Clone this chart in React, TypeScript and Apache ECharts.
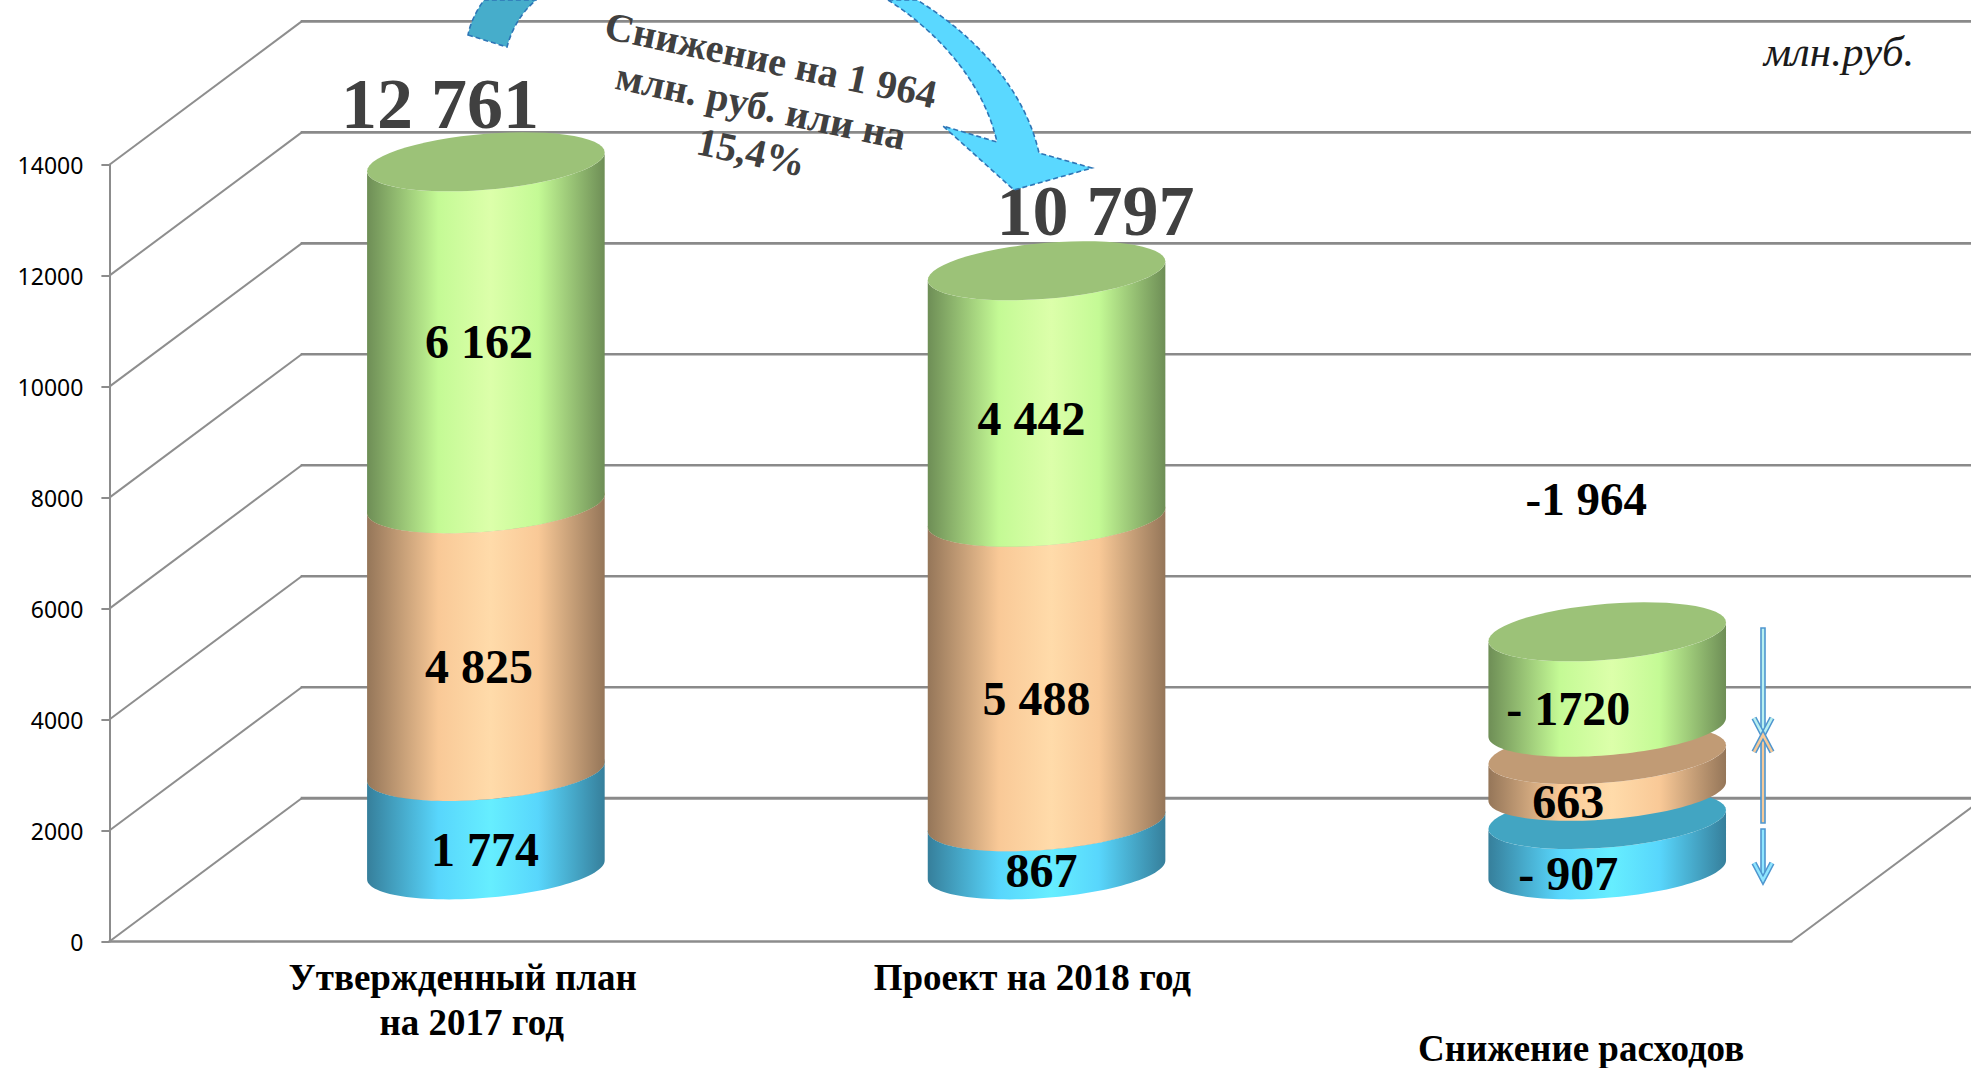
import React, { useEffect, useRef } from "react";
import * as echarts from "echarts";

const categories = [["Утвержденный план", "на 2017 год"], ["Проект на 2018 год"], ["Снижение расходов"]];
const tickValues = [0, 2000, 4000, 6000, 8000, 10000, 12000, 14000];
const blueValues = [1774, 867, 907];
const peachValues = [4825, 5488, 663];
const greenValues = [6162, 4442, 1720];
const blueGaps = [0, 0, 508];
const peachGaps = [0, 0, 492];
const blueLabels = ["1 774", "867", "- 907"];
const peachLabels = ["4 825", "5 488", "663"];
const greenLabels = ["6 162", "4 442", "- 1720"];
const totalLabels = ["12 761", "10 797", "-1 964"];

const W = 1971, H = 1068;
const GRID = { left: 109.4, top: 164.7, width: 1682, height: 776.8 };
const DEPTH_X = 192.3, DEPTH_Y = 143.3;
const RX = 118.8, RY = 28, SHEAR = 9.4;
const SERIF = '"Liberation Serif", "Times New Roman", serif';

const blueNudge = [[-1, 29], [-5, 25], [-39, 29]];
const peachNudge = [[-7, 29], [-10, 29], [-39, 29]];
const greenNudge = [[-7, 9], [-15, 24], [-39, 29]];
const totalNudge = [[-46, -58], [49, -60], [-21, -133]];
const catNudge = [[[73, 36], [82, 81]], [[82, 36]], [[70, 107]]];

echarts.graphic.registerShape("arrowRight", echarts.graphic.extendPath(
  "M888 0C935 30 983 80 997 142L943 126L1014 190L1092 168L1039 153C1025 90 975 35 917 0Z", {}));
echarts.graphic.registerShape("arrowLeft", echarts.graphic.extendPath(
  "M468 35L507 47C512 28 522 12 536 0L484 0C476 11 470 24 468 35Z", {}));

const sideFill = (edge: string, mid: string, light: string, mid2: string, edge2: string) =>
  new echarts.graphic.LinearGradient(0, 0, 1, 0, [
    { offset: 0, color: edge },
    { offset: 0.3, color: mid },
    { offset: 0.52, color: light },
    { offset: 0.72, color: mid2 },
    { offset: 1, color: edge2 },
  ]);

const bands = [
  { name: "blue", values: blueValues, labels: blueLabels, nudge: blueNudge,
    bases: blueValues.map(() => 0), top: "#42A5C2",
    side: sideFill("#367F9B", "#58D6FC", "#66EEFF", "#58D6FC", "#367F9B") },
  { name: "peach", values: peachValues, labels: peachLabels, nudge: peachNudge,
    bases: blueValues.map((v, i) => v + blueGaps[i]), top: "#C19B75",
    side: sideFill("#957659", "#F9C997", "#FFDBAA", "#F9C997", "#957659") },
  { name: "green", values: greenValues, labels: greenLabels, nudge: greenNudge,
    bases: blueValues.map((v, i) => v + blueGaps[i] + peachValues[i] + peachGaps[i]), top: "#9CC278",
    side: sideFill("#6E8E56", "#C4FA95", "#DCFFAA", "#C4FA95", "#6E8E56") },
];

const rim = (cx: number, cy: number, from: number, to: number) => {
  const pts: number[][] = [];
  for (let k = 0; k <= 60; k++) {
    const t = from + ((to - from) * k) / 60;
    pts.push([cx + RX * Math.cos(t), cy + RY * Math.sin(t) - SHEAR * Math.cos(t)]);
  }
  return pts;
};

const depthPoint = (api: any, i: number, v: number) => {
  const p = api.coord([i, v]);
  return [p[0] + DEPTH_X / 2, p[1] - DEPTH_Y / 2];
};

const bandSeries = bands.map((b) => ({
  type: "custom",
  name: b.name,
  silent: true,
  data: b.values.map((v, i) => [i, b.bases[i], v]),
  encode: { x: 0, y: 1 },
  renderItem: (_p: any, api: any) => {
    const i = api.value(0), base = api.value(1), v = api.value(2);
    const [cx, yb] = depthPoint(api, i, base);
    const [, yt] = depthPoint(api, i, base + v);
    const side = [...rim(cx, yb, 0, Math.PI), ...rim(cx, yt, Math.PI, 0)];
    return {
      type: "group",
      children: [
        { type: "polygon", shape: { points: side }, style: { fill: b.side } },
        { type: "polygon", shape: { points: rim(cx, yt, 0, Math.PI * 2) }, style: { fill: b.top } },
      ],
    };
  },
}));

const labelSeries = bands.map((b) => ({
  type: "custom",
  name: b.name + "-labels",
  silent: true,
  z: 5,
  data: b.values.map((v, i) => [i, b.bases[i] + v / 2]),
  encode: { x: 0, y: 1 },
  renderItem: (_p: any, api: any) => {
    const i = api.value(0);
    const [x, y] = depthPoint(api, i, api.value(1));
    return {
      type: "text",
      style: {
        text: b.labels[i], x: x + b.nudge[i][0], y: y + b.nudge[i][1],
        font: `bold 48px ${SERIF}`, fill: "#000", align: "center", verticalAlign: "middle",
      },
    };
  },
}));

const totalTop = (i: number) => blueValues[i] + blueGaps[i] + peachValues[i] + peachGaps[i] + greenValues[i];

const option: any = {
  animation: false,
  backgroundColor: "#fff",
  grid: { ...GRID, containLabel: false },
  xAxis: {
    type: "category",
    data: categories.map((c) => c.join("\n")),
    axisLine: { show: true, lineStyle: { color: "#8C8C8C", width: 2.5 } },
    axisTick: { show: false },
    axisLabel: { show: false },
    splitLine: { show: false },
  },
  yAxis: {
    type: "value",
    min: 0,
    max: 14000,
    interval: 2000,
    axisLine: { show: true, lineStyle: { color: "#8C8C8C", width: 2 } },
    axisTick: { show: true, length: 8, lineStyle: { color: "#8C8C8C", width: 2 } },
    axisLabel: { color: "#000", fontFamily: "Noto Sans", fontSize: 23, margin: 26, formatter: (v: number) => String(v) },
    splitLine: { show: false },
  },
  series: [
    {
      type: "custom",
      name: "walls",
      silent: true,
      data: tickValues.map((v) => [0, v]),
      encode: { x: 0, y: 1 },
      renderItem: (p: any, api: any) => {
        const v = api.value(1);
        const x0 = p.coordSys.x;
        const y = api.coord([0, v])[1];
        const children: any[] = [
          { type: "line", shape: { x1: x0, y1: y, x2: x0 + DEPTH_X, y2: y - DEPTH_Y },
            style: { stroke: "#8E8E8E", lineWidth: 2 } },
          { type: "line", shape: { x1: x0 + DEPTH_X - 1, y1: y - DEPTH_Y, x2: W + 4, y2: y - DEPTH_Y },
            style: { stroke: "#8A8A8A", lineWidth: v === 0 ? 3 : 2.6 } },
        ];
        if (v === 0) {
          const xr = x0 + p.coordSys.width;
          children.push({ type: "line", shape: { x1: xr, y1: y, x2: xr + DEPTH_X, y2: y - DEPTH_Y },
            style: { stroke: "#8E8E8E", lineWidth: 2 } });
        }
        return { type: "group", children };
      },
    },
    ...bandSeries,
    ...labelSeries,
    {
      type: "custom",
      name: "totals",
      silent: true,
      z: 5,
      data: totalLabels.map((_t, i) => [i, totalTop(i)]),
      encode: { x: 0, y: 1 },
      renderItem: (_p: any, api: any) => {
        const i = api.value(0);
        const [x, y] = depthPoint(api, i, api.value(1));
        return {
          type: "text",
          style: {
            text: totalLabels[i], x: x + totalNudge[i][0], y: y + totalNudge[i][1],
            font: `bold ${i === 2 ? 47 : 72}px ${SERIF}`, fill: i === 2 ? "#000" : "#404040",
            align: "center", verticalAlign: "middle",
          },
        };
      },
    },
    {
      type: "custom",
      name: "categories",
      silent: true,
      z: 5,
      data: categories.map((_c, i) => [i, 0]),
      encode: { x: 0, y: 1 },
      renderItem: (_p: any, api: any) => {
        const i = api.value(0);
        const [x, y] = api.coord([i, 0]);
        return {
          type: "group",
          children: categories[i].map((line, k) => ({
            type: "text",
            style: {
              text: line, x: x + catNudge[i][k][0], y: y + catNudge[i][k][1],
              font: `bold 37px ${SERIF}`, fill: "#000", align: "center", verticalAlign: "middle",
            },
          })),
        };
      },
    },
  ],
  graphic: [
    { type: "arrowLeft", z: 10, style: { fill: "#46ADCB", stroke: "#2E75B6", lineWidth: 1.6, lineDash: [5, 3] } },
    { type: "arrowRight", z: 10, style: { fill: "#5AD8FF", stroke: "#2E75B6", lineWidth: 1.6, lineDash: [5, 3] } },
    { type: "text", z: 11, x: 761, y: 106, rotation: (-12 * Math.PI) / 180,
      style: { text: "Снижение на 1 964\nмлн. руб. или на\n15,4%", font: `bold 40px ${SERIF}`, lineHeight: 47,
        fill: "#404040", align: "center", verticalAlign: "middle" } },
    { type: "text", z: 11, x: 1839, y: 51,
      style: { text: "млн.руб.", font: `italic 43px ${SERIF}`, fill: "#1a1a1a", align: "center", verticalAlign: "middle" } },
    ...[
      { x: 1763, y1: 628, y2: 735, fill: "#B8F0F0", dir: 1 },
      { x: 1763, y1: 823, y2: 735, fill: "#F6C998", dir: -1 },
      { x: 1763, y1: 829, y2: 880, fill: "#8FE6FF", dir: 1 },
    ].flatMap((a) => {
      const head = [[a.x - 9, a.y2 - a.dir * 17], [a.x, a.y2], [a.x + 9, a.y2 - a.dir * 17]];
      return [
        { type: "rect", z: 9, shape: { x: a.x - 2, y: Math.min(a.y1, a.y2), width: 4, height: Math.abs(a.y2 - a.y1) },
          style: { fill: a.fill, stroke: "#4F96CF", lineWidth: 1.6 } },
        { type: "polyline", z: 9, shape: { points: head }, style: { fill: "none", stroke: "#4F96CF", lineWidth: 5.5 } },
        { type: "polyline", z: 9, shape: { points: head }, style: { fill: "none", stroke: a.fill, lineWidth: 2.6 } },
      ];
    }),
  ],
};

export default function App() {
  const ref = useRef<HTMLDivElement>(null);
  useEffect(() => {
    const chart = echarts.init(ref.current!, undefined, { renderer: "svg" });
    chart.setOption(option);
    return () => chart.dispose();
  }, []);
  return <div ref={ref} style={{ position: "fixed", left: 0, top: 0, width: W, height: H }} />;
}
